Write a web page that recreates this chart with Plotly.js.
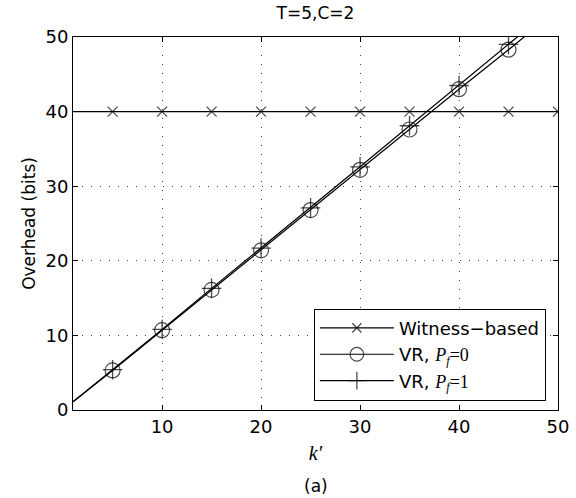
<!DOCTYPE html>
<html><head><meta charset="utf-8">
<script src="https://cdn.plot.ly/plotly-3.0.1.min.js"></script>
<style>body{margin:0;background:#fff}#plot{width:576px;height:498px}</style>
</head><body><div id="plot"></div>
<script>
const kValues = [1, 5, 10, 15, 20, 25, 30, 35, 40, 45, 50];
const witnessK = [1, 5, 10, 15, 20, 25, 30, 35, 40, 45, 50];
const witnessOverhead = [40, 40, 40, 40, 40, 40, 40, 40, 40, 40, 40];
const vrPf0 = [1.1, 5.3, 10.7, 16.1, 21.4, 26.8, 32.2, 37.6, 43.0, 48.3, 53.7];
const vrPf1 = [1.1, 5.4, 10.8, 16.3, 21.7, 27.1, 32.6, 38.1, 43.5, 49.0, 54.5];
const serif = "font-family:'Liberation Serif'";
const seriesNames = ['Witness\u2212based',
  'VR, <span style="' + serif + '"><i>P</i><sub><i>f</i></sub>=0</span>',
  'VR, <span style="' + serif + '"><i>P</i><sub><i>f</i></sub>=1</span>'];
const xTicks = [10, 20, 30, 40, 50];
const yTicks = [0, 10, 20, 30, 40, 50];

const markerSizes = (s) => kValues.map((k, i) => (i === 0 ? 0 : s));
const SANS = 'DejaVu Sans, Arial';

const traces = [
  {x: witnessK, y: witnessOverhead, name: seriesNames[0], mode: 'lines+markers',
   line: {color: '#000', width: 1.2},
   marker: {symbol: 'x-thin-open', size: witnessK.map((k, i) => i === 0 ? 0 : 10), color: '#000', line: {width: 1.3, color: '#000'}}},
  {x: kValues, y: vrPf0, name: seriesNames[1], mode: 'lines+markers',
   line: {color: '#000', width: 1.2},
   marker: {symbol: 'circle-open', size: markerSizes(15), color: '#000', line: {width: 1.2, color: '#000'}}},
  {x: kValues, y: vrPf1, name: seriesNames[2], mode: 'lines+markers',
   line: {color: '#000', width: 1.2},
   marker: {symbol: 'cross-thin-open', size: markerSizes(14), color: '#000', line: {width: 1.3, color: '#000'}}}
];

const axisCommon = {
  showline: true, linecolor: '#000', linewidth: 1, mirror: 'ticks',
  ticks: 'inside', ticklen: 5, tickcolor: '#000',
  showgrid: true, gridcolor: '#444', griddash: '1px,8px', gridwidth: 1,
  zeroline: false, tickfont: {family: SANS, size: 18, color: '#000'}
};

const layout = {
  width: 576, height: 498,
  margin: {l: 73, r: 18, t: 37, b: 88},
  paper_bgcolor: '#fff', plot_bgcolor: '#fff',
  title: {text: 'T=5,C=2', xref: 'paper', x: 0.5, xanchor: 'center', yref: 'container', y: 0.974, yanchor: 'middle',
          font: {family: SANS, size: 17, color: '#000'}},
  xaxis: Object.assign({}, axisCommon, {range: [1, 50], tickvals: xTicks, ticktext: xTicks.map(String),
    title: {text: '<i>k\u2032</i>', font: {family: 'Liberation Serif', size: 20, color: '#000'}, standoff: 10}}),
  yaxis: Object.assign({}, axisCommon, {range: [0, 50], tickvals: yTicks, ticktext: yTicks.map(String),
    title: {text: 'Overhead (bits)', font: {family: SANS, size: 17, color: '#000'}, standoff: 5}}),
  showlegend: true,
  legend: {x: 0.975, xanchor: 'right', y: 0.025, yanchor: 'bottom',
    bgcolor: '#fff', bordercolor: '#000', borderwidth: 1, itemwidth: 74,
    font: {family: SANS, size: 18, color: '#000'}, tracegroupgap: 0},
  annotations: [{text: '(a)', xref: 'paper', yref: 'paper', x: 0.5, y: -0.205, xanchor: 'center', yanchor: 'middle',
    showarrow: false, font: {family: SANS, size: 17, color: '#000'}}]
};

Plotly.newPlot('plot', traces, layout, {displayModeBar: false, staticPlot: true});
</script></body></html>
